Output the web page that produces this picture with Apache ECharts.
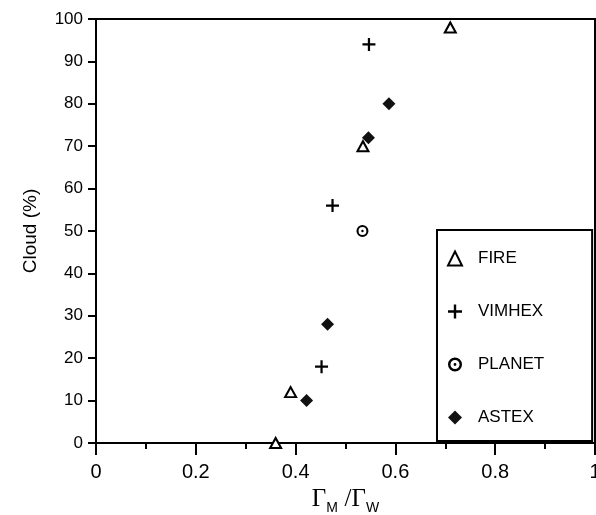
<!DOCTYPE html>
<html>
<head>
    <meta charset="utf-8">
    <title>Cloud vs Gamma ratio</title>
    <script src="https://cdn.jsdelivr.net/npm/echarts@6/dist/echarts.min.js"></script>
    <style type="text/css">
        html, body { margin: 0; padding: 0; background: #fff; }
        #chart { width: 596px; height: 515px; }
    </style>
</head>
<body>
<div id="chart"></div>
<script>
    // values
    var fireX = [0.71, 0.535, 0.39, 0.36];
    var fireY = [98, 70, 12, 0];
    var vimhexX = [0.547, 0.474, 0.452];
    var vimhexY = [94, 56, 18];
    var planetX = [0.534];
    var planetY = [50];
    var astexX = [0.587, 0.546, 0.464, 0.422];
    var astexY = [80, 72, 28, 10];

    function pairs(xs, ys) {
        var out = [];
        for (var i = 0; i < xs.length; i++) {
            out.push([xs[i], ys[i]]);
        }
        return out;
    }

    var font = 'Liberation Sans';
    var plusPath = 'path://M5.8,0H8.2V5.8H14V8.2H8.2V14H5.8V8.2H0V5.8H5.8Z';
    // ring with a dot in the middle
    var ringPath = 'path://M10,0A10,10,0,1,1,10,20A10,10,0,1,1,10,0Z' +
        'M10,3.5A6.5,6.5,0,1,0,10,16.5A6.5,6.5,0,1,0,10,3.5Z' +
        'M10,8A2,2,0,1,1,10,12A2,2,0,1,1,10,8Z';

    var myChart = echarts.init(document.getElementById('chart'));

    var option = {
        backgroundColor: '#fff',
        animation: false,
        textStyle: { fontFamily: font, color: '#000' },
        grid: {
            left: 96,
            right: 1,
            top: 19,
            bottom: 72,
            outerBoundsMode: 'none',
            containLabel: false,
            show: true,
            borderColor: '#000',
            borderWidth: 2
        },
        legend: {
            orient: 'vertical',
            left: 437,
            top: 230,
            padding: [20, 48, 15, 10],
            itemGap: 36,
            itemWidth: 14,
            itemHeight: 14,
            borderColor: '#000',
            borderWidth: 2,
            backgroundColor: '#fff',
            textStyle: { fontFamily: font, fontSize: 17, color: '#000', padding: [0, 0, 0, 11] },
            data: ['FIRE', 'VIMHEX', 'PLANET', 'ASTEX']
        },
        xAxis: {
            type: 'value',
            min: 0,
            max: 1,
            interval: 0.2,
            name: '{g|Γ}{s|M}  {g|/Γ}{s|W}',
            nameLocation: 'middle',
            nameGap: 44,
            nameTextStyle: {
                rich: {
                    g: { fontFamily: 'Liberation Serif', fontSize: 25, lineHeight: 24, verticalAlign: 'top', color: '#000' },
                    s: { fontFamily: font, fontSize: 14, lineHeight: 14, padding: [14, 0, 0, 0], verticalAlign: 'top', color: '#000' }
                }
            },
            axisLine: { onZero: false, lineStyle: { color: '#000', width: 2 } },
            axisTick: { length: 12, lineStyle: { color: '#000', width: 2 } },
            minorTick: { show: true, splitNumber: 2, length: 6, lineStyle: { color: '#000', width: 2 } },
            axisLabel: { fontFamily: font, fontSize: 20, color: '#000', margin: 19 },
            splitLine: { show: false }
        },
        yAxis: {
            type: 'value',
            min: 0,
            max: 100,
            interval: 10,
            name: 'Cloud (%)',
            nameLocation: 'middle',
            nameGap: 56,
            nameTextStyle: { fontFamily: font, fontSize: 19, color: '#000' },
            axisLine: { onZero: false, lineStyle: { color: '#000', width: 2 } },
            axisTick: { length: 8, lineStyle: { color: '#000', width: 2 } },
            axisLabel: { fontFamily: font, fontSize: 17, color: '#000', margin: 13 },
            splitLine: { show: false }
        },
        series: [
            {
                name: 'FIRE',
                type: 'scatter',
                symbol: 'triangle',
                symbolSize: [11, 10],
                itemStyle: { color: '#fff', borderColor: '#000', borderWidth: 2, opacity: 1 },
                data: pairs(fireX, fireY)
            },
            {
                name: 'VIMHEX',
                type: 'scatter',
                symbol: plusPath,
                symbolSize: 13,
                itemStyle: { color: '#000', opacity: 1 },
                data: pairs(vimhexX, vimhexY)
            },
            {
                name: 'PLANET',
                type: 'scatter',
                symbol: ringPath,
                symbolSize: 12,
                itemStyle: { color: '#000', opacity: 1 },
                data: pairs(planetX, planetY)
            },
            {
                name: 'ASTEX',
                type: 'scatter',
                symbol: 'diamond',
                symbolSize: 13,
                itemStyle: { color: '#111', opacity: 1 },
                data: pairs(astexX, astexY)
            }
        ]
    };

    myChart.setOption(option);
</script>
</body>
</html>
